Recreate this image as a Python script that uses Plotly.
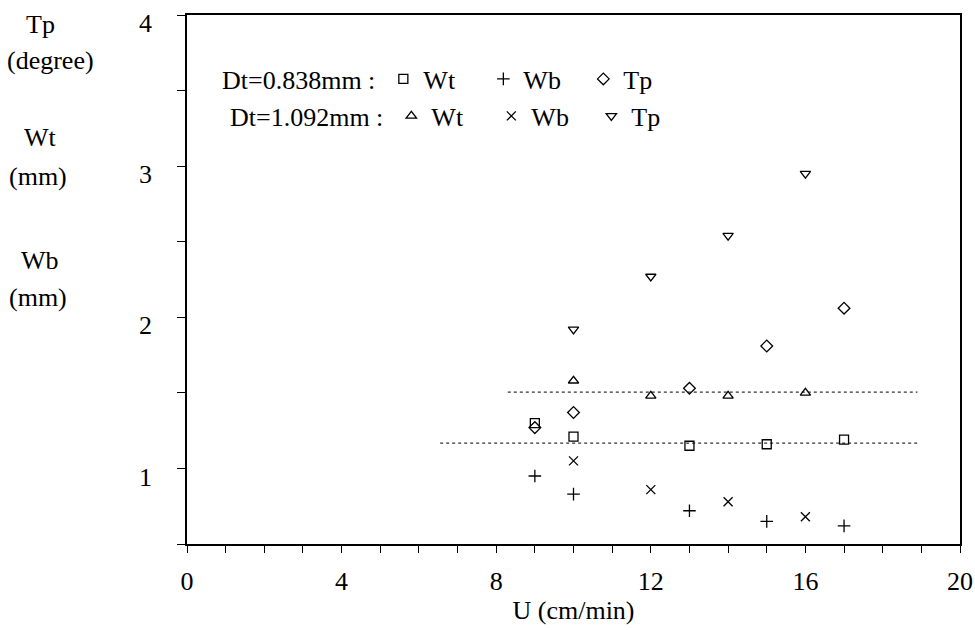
import plotly.graph_objects as go

# ---- data ----
# Dt = 0.838 mm
u_a_wt = [9, 10, 13, 15, 17]
wt_a = [1.30, 1.21, 1.15, 1.16, 1.19]
u_a_wb = [9, 10, 13, 15, 17]
wb_a = [0.95, 0.83, 0.72, 0.65, 0.62]
u_a_tp = [9, 10, 13, 15, 17]
tp_a = [1.27, 1.37, 1.53, 1.81, 2.06]
# Dt = 1.092 mm
u_b = [10, 12, 14, 16]
wt_b = [1.58, 1.48, 1.48, 1.50]
wb_b = [1.05, 0.86, 0.78, 0.68]
tp_b = [1.92, 2.27, 2.54, 2.95]
# mean (dotted) lines
mean_wt_b_x = [8.3, 18.9]
mean_wt_b_y = [1.505, 1.505]
mean_wt_a_x = [6.55, 18.9]
mean_wt_a_y = [1.168, 1.168]

x_ticks = [0, 4, 8, 12, 16, 20]
y_ticks = [1, 2, 3, 4]

left_labels = ["Tp", "(degree)", "Wt", "(mm)", "Wb", "(mm)"]

FONT = "Liberation Serif, Times New Roman, serif"
FS = 26

W, H = 975, 630
ML, MR, MT, MB = 187, 15, 15, 86
PW, PH = W - ML - MR, H - MT - MB

fig = go.Figure()

line_style = dict(color="#333", width=1.2, dash="dot")
fig.add_trace(go.Scatter(x=mean_wt_b_x, y=mean_wt_b_y, mode="lines",
                         line=line_style, showlegend=False, hoverinfo="skip"))
fig.add_trace(go.Scatter(x=mean_wt_a_x, y=mean_wt_a_y, mode="lines",
                         line=line_style, showlegend=False, hoverinfo="skip"))

def mk(symbol, size=8):
    return dict(symbol=symbol, size=size, color="black",
                line=dict(color="black", width=1.3))

fig.add_trace(go.Scatter(x=u_a_wt, y=wt_a, mode="markers", name="Wt",
                         marker=mk("square-open", 9), legend="legend"))
fig.add_trace(go.Scatter(x=u_a_wb, y=wb_a, mode="markers", name="Wb",
                         marker=mk("cross-thin-open", 9), legend="legend"))
fig.add_trace(go.Scatter(x=u_a_tp, y=tp_a, mode="markers", name="Tp",
                         marker=mk("diamond-open", 9), legend="legend"))
fig.add_trace(go.Scatter(x=u_b, y=wt_b, mode="markers", name="Wt",
                         marker=mk("triangle-up-open", 9), legend="legend2"))
fig.add_trace(go.Scatter(x=u_b, y=wb_b, mode="markers", name="Wb",
                         marker=mk("x-thin-open", 9), legend="legend2"))
fig.add_trace(go.Scatter(x=u_b, y=tp_b, mode="markers", name="Tp",
                         marker=mk("triangle-down-open", 9), legend="legend2"))

leg_common = dict(orientation="h", bgcolor="rgba(0,0,0,0)",
                  font=dict(family=FONT, size=FS, color="black"),
                  entrywidth=55, entrywidthmode="pixels",
                  itemwidth=30, yanchor="middle", xanchor="left",
                  traceorder="normal")

fig.update_layout(
    width=W, height=H, autosize=False,
    margin=dict(l=ML, r=MR, t=MT, b=MB, autoexpand=False),
    paper_bgcolor="white", plot_bgcolor="white",
    font=dict(family=FONT, size=FS, color="black"),
    legend=dict(x=(220 - ML) / PW, y=1 - (79 - MT) / PH,
                title=dict(text="Dt=0.838mm :", side="left",
                           font=dict(family=FONT, size=FS)),
                **leg_common),
    legend2=dict(x=(228 - ML) / PW, y=1 - (116 - MT) / PH,
                 title=dict(text="Dt=1.092mm :", side="left",
                            font=dict(family=FONT, size=FS)),
                 **leg_common),
)

fig.update_xaxes(range=[0, 20], tickvals=x_ticks, ticktext=[str(v) for v in x_ticks],
                 ticks="outside", ticklen=7, tickwidth=1.2, tickcolor="black",
                 minor=dict(dtick=1, ticks="outside", ticklen=7, tickwidth=1.2,
                            tickcolor="black", showgrid=False),
                 showline=True, linecolor="black", linewidth=1.5, mirror=True,
                 showgrid=False, zeroline=False, automargin=False,
                 tickfont=dict(family=FONT, size=FS),
                 ticklabelstandoff=6, ticklabeloverflow="allow",
                 title=dict(text="U (cm/min)", font=dict(family=FONT, size=FS),
                            standoff=6))
fig.update_yaxes(range=[0.5, 4], tickvals=y_ticks, ticktext=[str(v) for v in y_ticks],
                 ticks="outside", ticklen=8, tickwidth=1.2, tickcolor="black",
                 minor=dict(dtick=0.5, ticks="outside", ticklen=8, tickwidth=1.2,
                            tickcolor="black", showgrid=False),
                 showline=True, linecolor="black", linewidth=1.5, mirror=True,
                 showgrid=False, zeroline=False, automargin=False,
                 tickfont=dict(family=FONT, size=FS),
                 ticklabelstandoff=20, ticklabelshift=8, ticklabeloverflow="allow")

# side label block (pixel positions converted to paper coords)
left_label_px_x = [40, 50, 40, 38, 40, 38]
left_label_px_y = [24, 60, 137, 176, 260, 297]
for txt, px, py in zip(left_labels, left_label_px_x, left_label_px_y):
    fig.add_annotation(text=txt, xref="paper", yref="paper",
                       x=(px - ML) / PW, y=1 - (py - MT) / PH,
                       xanchor="center", yanchor="middle", showarrow=False,
                       font=dict(family=FONT, size=FS, color="black"))

fig.write_html("out.html")
